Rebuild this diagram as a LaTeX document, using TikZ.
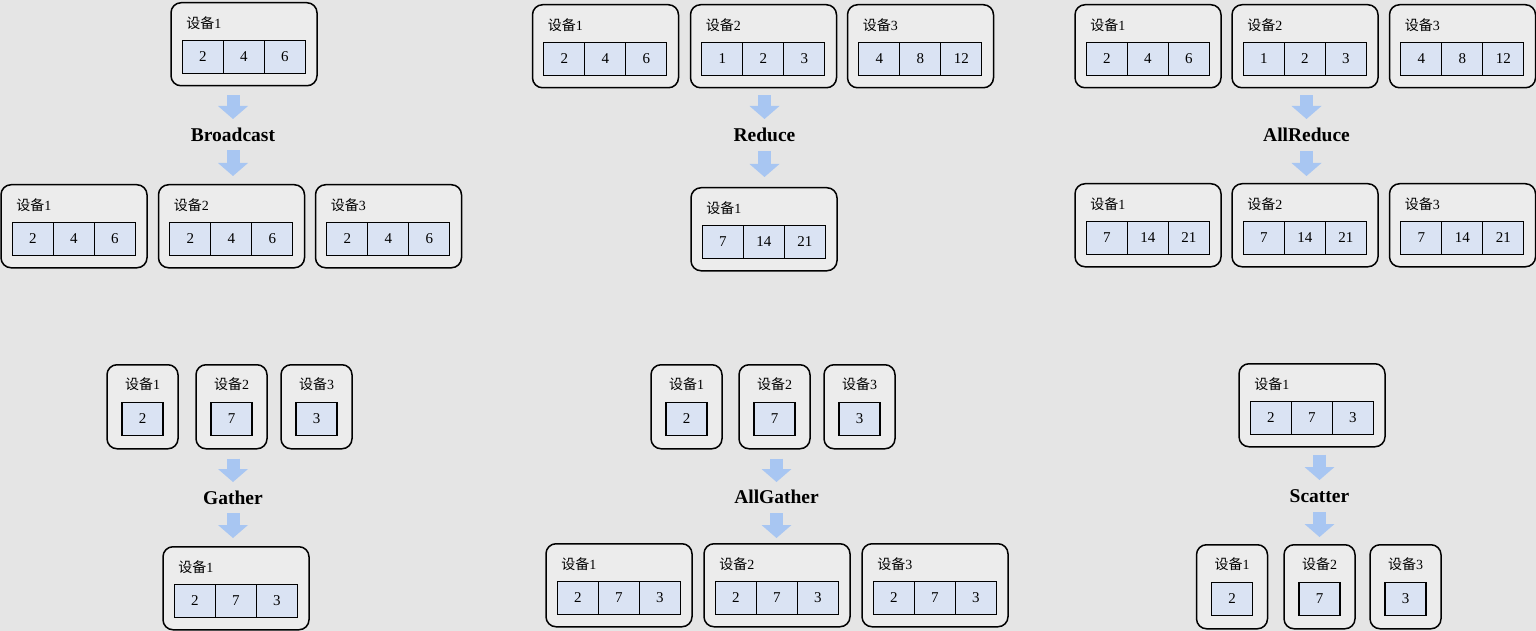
\documentclass[tikz,border=0pt]{standalone}
\usepackage{fontspec}
\setmainfont{Liberation Serif}
\newfontfamily\cjk{Noto Sans CJK SC}
\usetikzlibrary{positioning,arrows.meta}
\definecolor{bggrey}{RGB}{229,229,229}
\definecolor{boxgrey}{RGB}{236,236,236}
\definecolor{cellblue}{RGB}{218,227,243}
\definecolor{flowblue}{RGB}{168,198,242}
\tikzstyle{devbox} = [draw, rounded corners=10pt, fill=boxgrey, line width=1.5pt, inner sep=0pt]
\tikzstyle{devlabel} = [inner sep=0pt, font=\fontsize{14}{14}\selectfont]
\tikzstyle{cell} = [draw, fill=cellblue, line width=1.3pt, minimum width=41pt, minimum height=33pt, inner sep=0pt, outer sep=0pt, font=\fontsize{15}{15}\selectfont]
\tikzstyle{optitle} = [inner sep=0pt, font=\fontsize{19.5}{19.5}\selectfont\bfseries]
\tikzstyle{flow} = [draw=flowblue, line width=13pt, -{Triangle[width=30pt,length=13pt,line width=0pt]}]
\newcommand{\devthree}[7]{%
  \node[devbox, minimum width=146pt, minimum height=83pt, anchor=north] (#1) at (#2,#3) {};
  \node[devlabel, anchor=west] (#1l) at ([xshift=16pt,yshift=-21pt]#1.north west) {{\cjk 设备}#4};
  \node[cell] (#1a) at ([xshift=32.5pt,yshift=-55pt]#1.north west) {#5};
  \node[cell, right=0pt of #1a] (#1b) {#6};
  \node[cell, right=0pt of #1b] (#1c) {#7};
}
\newcommand{\devone}[5]{%
  \node[devbox, minimum width=71pt, minimum height=84pt, anchor=north] (#1) at (#2,#3) {};
  \node[devlabel] (#1l) at ([yshift=-20pt]#1.north) {{\cjk 设备}#4};
  \node[cell] (#1a) at ([yshift=-55pt]#1.north) {#5};
}
\begin{document}
\begin{tikzpicture}[x=1pt,y=-1pt]

\fill[bggrey] (0,0) rectangle (1536,631);
\useasboundingbox (0,0) rectangle (1536,631);

\devthree{bcA}{244}{2}{1}{2}{4}{6}
\node[optitle] (bc) at (233,135) {Broadcast};
\devthree{bcB1}{74}{184}{1}{2}{4}{6}
\devthree{bcB2}{231.5}{184}{2}{2}{4}{6}
\devthree{bcB3}{388.5}{184}{3}{2}{4}{6}
\draw[flow, shorten <=9pt] (bcA.south -| bc) -- ([yshift=16pt]bc.center);
\draw[flow, shorten >=8pt] ([yshift=-15pt]bc.center) -- (bcB2.north -| bc);

\devthree{rdA1}{605.5}{4}{1}{2}{4}{6}
\devthree{rdA2}{763.5}{4}{2}{1}{2}{3}
\devthree{rdA3}{920.5}{4}{3}{4}{8}{12}
\node[optitle] (rd) at (764.5,135) {Reduce};
\devthree{rdB}{764}{187}{1}{7}{14}{21}
\draw[flow, shorten <=7pt] (rdA2.south -| rd) -- ([yshift=16pt]rd.center);
\draw[flow, shorten >=10pt] ([yshift=-16pt]rd.center) -- (rdB.north -| rd);

\devthree{arA1}{1148}{4}{1}{2}{4}{6}
\devthree{arA2}{1305}{4}{2}{1}{2}{3}
\devthree{arA3}{1462.5}{4}{3}{4}{8}{12}
\node[optitle] (ar) at (1306.5,135) {AllReduce};
\devthree{arB1}{1148}{183}{1}{7}{14}{21}
\devthree{arB2}{1305}{183}{2}{7}{14}{21}
\devthree{arB3}{1462.5}{183}{3}{7}{14}{21}
\draw[flow, shorten <=7pt] (arA2.south -| ar) -- ([yshift=16pt]ar.center);
\draw[flow, shorten >=7pt] ([yshift=-16pt]ar.center) -- (arB2.north -| ar);

\devone{gaA1}{142.5}{364}{1}{2}
\devone{gaA2}{231.5}{364}{2}{7}
\devone{gaA3}{316.5}{364}{3}{3}
\node[optitle] (ga) at (233,497.5) {Gather};
\devthree{gaB}{236}{546}{1}{2}{7}{3}
\draw[flow, shorten <=9pt] (gaA2.south -| ga) -- ([yshift=15.5pt]ga.center);
\draw[flow, shorten >=8pt] ([yshift=-15.5pt]ga.center) -- (gaB.north -| ga);

\devone{agA1}{686.5}{364}{1}{2}
\devone{agA2}{774.5}{364}{2}{7}
\devone{agA3}{859.5}{364}{3}{3}
\node[optitle] (ag) at (776.5,497) {AllGather};
\devthree{agB1}{619}{543}{1}{2}{7}{3}
\devthree{agB2}{777}{543}{2}{2}{7}{3}
\devthree{agB3}{935}{543}{3}{2}{7}{3}
\draw[flow, shorten <=9pt] (agA2.south -| ag) -- ([yshift=15pt]ag.center);
\draw[flow, shorten >=5pt] ([yshift=-16pt]ag.center) -- (agB2.north -| ag);

\devthree{scA}{1312}{363}{1}{2}{7}{3}
\node[optitle] (sc) at (1319.5,496) {Scatter};
\devone{scB1}{1232}{544}{1}{2}
\devone{scB2}{1319.5}{544}{2}{7}
\devone{scB3}{1405.5}{544}{3}{3}
\draw[flow, shorten <=7pt] (scA.south -| sc) -- ([yshift=16pt]sc.center);
\draw[flow, shorten >=7pt] ([yshift=-16pt]sc.center) -- (scB2.north -| sc);

\end{tikzpicture}
\end{document}
